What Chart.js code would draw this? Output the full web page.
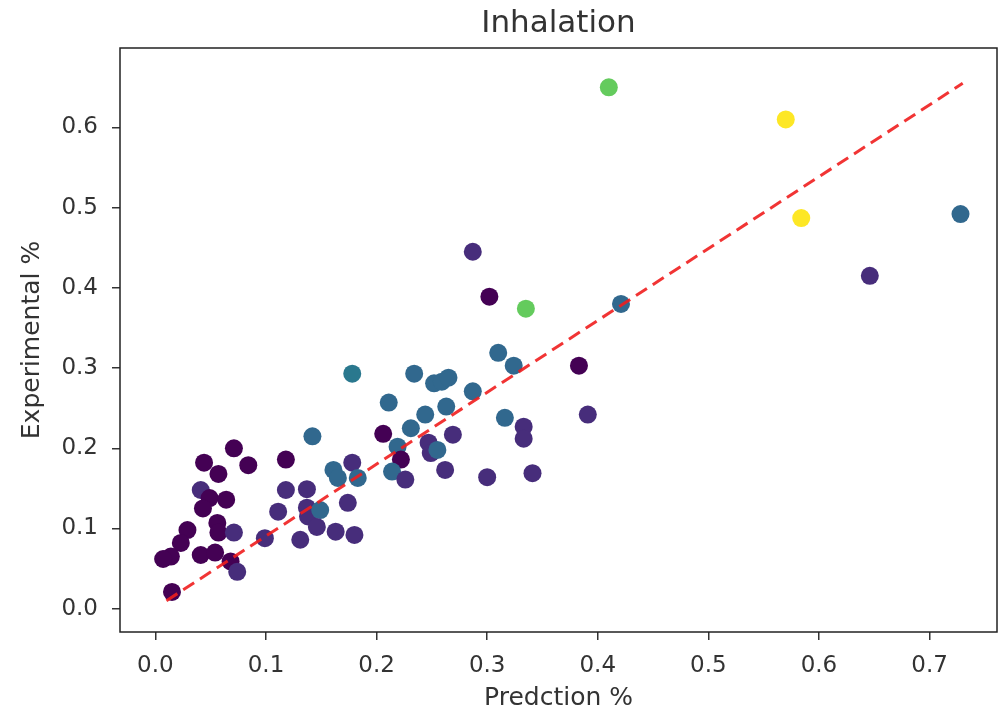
<!DOCTYPE html>
<html>
<head>
<meta charset="utf-8">
<title>Inhalation</title>
<script src="https://cdn.jsdelivr.net/npm/chart.js@4.4.0/dist/chart.umd.min.js"></script>
<style>
  html, body { margin: 0; padding: 0; background: #fff; }
  #chart { display: block; }
</style>
</head>
<body>
<canvas id="chart" width="999" height="713"></canvas>
<script>
// values
const predX = [0.410, 0.570, 0.584, 0.728, 0.646, 0.287, 0.302, 0.335, 0.421, 0.310,
               0.324, 0.178, 0.234, 0.252, 0.259, 0.265, 0.287, 0.211, 0.263, 0.244,
               0.316, 0.231, 0.333, 0.333, 0.206, 0.269, 0.142, 0.219, 0.247, 0.249,
               0.222, 0.214, 0.226, 0.262, 0.300, 0.341, 0.383, 0.391, 0.178, 0.161,
               0.165, 0.183, 0.118, 0.118, 0.137, 0.111, 0.137, 0.138, 0.149, 0.174,
               0.146, 0.163, 0.180, 0.131, 0.099, 0.071, 0.044, 0.084, 0.057, 0.041,
               0.049, 0.064, 0.043, 0.056, 0.057, 0.071, 0.029, 0.023, 0.041, 0.054,
               0.014, 0.068, 0.074, 0.015, 0.007, 0.255];
const expY  = [0.650, 0.610, 0.487, 0.492, 0.415, 0.445, 0.389, 0.374, 0.380, 0.319,
               0.303, 0.293, 0.293, 0.281, 0.283, 0.288, 0.271, 0.257, 0.252, 0.242,
               0.238, 0.225, 0.227, 0.212, 0.218, 0.217, 0.215, 0.202, 0.207, 0.194,
               0.186, 0.171, 0.161, 0.173, 0.164, 0.169, 0.303, 0.242, 0.182, 0.173,
               0.163, 0.163, 0.186, 0.148, 0.149, 0.121, 0.126, 0.115, 0.123, 0.132,
               0.102, 0.096, 0.092, 0.086, 0.088, 0.200, 0.182, 0.179, 0.168, 0.148,
               0.138, 0.136, 0.125, 0.107, 0.095, 0.095, 0.098, 0.082, 0.067, 0.070,
               0.065, 0.059, 0.046, 0.021, 0.062, 0.198];
// colour group of each point (0 = darkest ... 5 = yellow)
const group = [4, 5, 5, 2, 1, 1, 0, 4, 2, 2,
               2, 3, 2, 2, 2, 2, 2, 2, 2, 2,
               2, 2, 1, 1, 0, 1, 2, 2, 1, 1,
               0, 2, 1, 1, 1, 1, 0, 1, 1, 2,
               2, 2, 0, 1, 1, 1, 1, 1, 2, 1,
               1, 1, 1, 1, 1, 0, 0, 0, 0, 1,
               0, 0, 0, 0, 0, 1, 0, 0, 0, 0,
               0, 0, 1, 0, 0, 2];
const fitX = [0.01, 0.73];
const fitY = [0.01, 0.655];
const xTicks = [0.0, 0.1, 0.2, 0.3, 0.4, 0.5, 0.6, 0.7];
const yTicks = [0.0, 0.1, 0.2, 0.3, 0.4, 0.5, 0.6];

const palette = ['#440154', '#472d7b', '#31688e', '#2a788e', '#64cb5d', '#fde725'];
const textColor = '#333333';
const font = 'DejaVu Sans';

// frame around the plot area, like matplotlib spines
const frame = {
    id: 'frame',
    afterDatasetsDraw(chart) {
        const a = chart.chartArea, ctx = chart.ctx;
        ctx.save();
        ctx.strokeStyle = '#222';
        ctx.lineWidth = 1.5;
        ctx.strokeRect(a.left, a.top, a.right - a.left, a.bottom - a.top);
        ctx.restore();
    }
};

new Chart(document.getElementById('chart'), {
    type: 'scatter',
    data: {
        datasets: [{
            type: 'line',
            xAxisID: 'x',
            yAxisID: 'y',
            data: fitX.map((x, i) => ({ x: x, y: fitY[i] })),
            borderColor: 'rgba(240, 30, 30, 0.9)',
            borderWidth: 3,
            borderDash: [13, 7],
            pointRadius: 0,
            fill: false,
            order: 0
        }, {
            xAxisID: 'x',
            yAxisID: 'y',
            data: predX.map((x, i) => ({ x: x, y: expY[i] })),
            backgroundColor: group.map(g => palette[g]),
            borderWidth: 0,
            pointRadius: 9,
            pointHoverRadius: 9,
            order: 1
        }]
    },
    options: {
        responsive: false,
        animation: false,
        layout: { autoPadding: false, padding: { left: 0, right: 2, top: 0, bottom: 0 } },
        plugins: {
            legend: { display: false },
            tooltip: { enabled: false },
            title: { display: false }
        },
        scales: {
            // top axis only carries the title, so it is centred over the plot
            top: {
                type: 'linear',
                position: 'top',
                min: 0,
                max: 1,
                afterFit: s => { s.height = 48; s.paddingLeft = 0; s.paddingRight = 0; },
                border: { display: false },
                grid: { display: false },
                ticks: { display: false },
                title: {
                    display: true,
                    text: 'Inhalation',
                    color: textColor,
                    font: { family: font, size: 31 },
                    padding: { top: 5, bottom: 0 }
                }
            },
            x: {
                type: 'linear',
                position: 'bottom',
                min: -0.032,
                max: 0.761,
                afterBuildTicks: s => { s.ticks = xTicks.map(v => ({ value: v })); },
                afterFit: s => { s.height = 81; s.paddingLeft = 0; s.paddingRight = 0; },
                border: { display: false },
                grid: { drawOnChartArea: false, drawTicks: true, tickLength: 8, color: '#333', lineWidth: 1.5 },
                ticks: {
                    color: textColor,
                    font: { family: font, size: 23 },
                    padding: 12,
                    maxRotation: 0,
                    callback: v => v.toFixed(1)
                },
                title: {
                    display: true,
                    text: 'Predction %',
                    color: textColor,
                    font: { family: font, size: 25 },
                    padding: { top: 0, bottom: 0 }
                }
            },
            y: {
                type: 'linear',
                position: 'left',
                min: -0.029,
                max: 0.699,
                afterBuildTicks: s => { s.ticks = yTicks.map(v => ({ value: v })); },
                afterFit: s => { s.width = 120; },
                border: { display: false },
                grid: { drawOnChartArea: false, drawTicks: true, tickLength: 8, color: '#333', lineWidth: 1.5 },
                ticks: {
                    color: textColor,
                    font: { family: font, size: 23 },
                    padding: 14,
                    callback: v => v.toFixed(1)
                },
                title: {
                    display: true,
                    text: 'Experimental %',
                    color: textColor,
                    font: { family: font, size: 25 },
                    padding: { top: 17, bottom: 0 }
                }
            }
        }
    },
    plugins: [frame]
});
</script>
</body>
</html>
